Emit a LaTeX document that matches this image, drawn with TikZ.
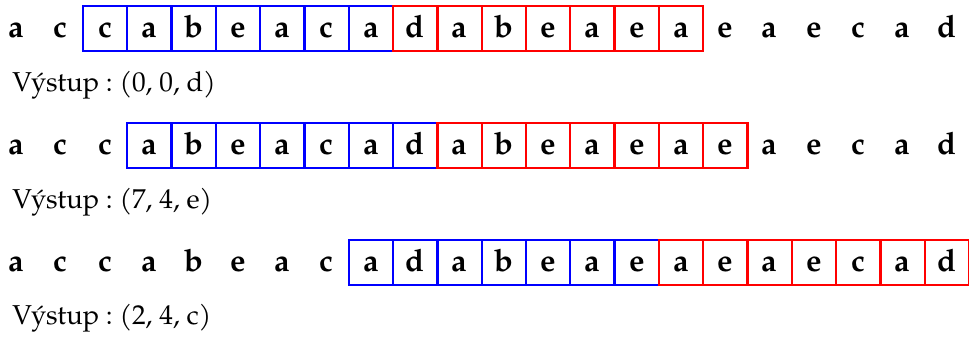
\documentclass[tikz,border=0pt]{standalone}
\usepackage{fontspec}
\setmainfont{texgyrepagella}[Extension=.otf,UprightFont=*-regular,BoldFont=*-bold,ItalicFont=*-italic,BoldItalicFont=*-bolditalic]
\definecolor{boxblue}{RGB}{0,0,255}
\definecolor{boxred}{RGB}{255,0,0}
\frenchspacing
\begin{document}
\begin{tikzpicture}[x=1pt,y=1pt,
  plaincell/.style={minimum width=44.3pt,minimum height=45pt,inner sep=0pt,
    text height=17.6pt,text depth=0pt,font=\fontsize{31}{34}\selectfont\bfseries},
  bluecell/.style={plaincell,draw=boxblue,line width=2.3pt},
  redcell/.style={plaincell,draw=boxred,line width=2.3pt},
  outlabel/.style={anchor=base west,inner sep=0pt,font=\fontsize{27.3}{30}\selectfont}]
\useasboundingbox (0,0) rectangle (969,-338);
\foreach \r/\bs/\rs in {1/2/9,2/3/10,3/8/15}{
  \foreach \ch [count=\i from 0] in {a,c,c,a,b,e,a,c,a,d,a,b,e,a,e,a,e,a,e,c,a,d}{
    \ifnum\i<\bs\relax
      \def\sty{plaincell}%
    \else\ifnum\i<\rs\relax
      \def\sty{bluecell}%
    \else\ifnum\i<\numexpr\rs+7\relax
      \def\sty{redcell}%
    \else
      \def\sty{plaincell}%
    \fi\fi\fi
    \tikzset{curcell/.style/.expanded={\sty}}
    \node[curcell] (r\r c\i) at ({16.55+44.3*\i},{-28.2-117.2*(\r-1)}) {\ch};
  }
}
\node[outlabel] (out1) at (12.2,-91.7) {Výstup : (0, 0, d)};
\node[outlabel] (out2) at (12.2,-208.2) {Výstup : (7, 4, e)};
\node[outlabel] (out3) at (12.2,-324.4) {Výstup : (2, 4, c)};
\end{tikzpicture}
\end{document}
